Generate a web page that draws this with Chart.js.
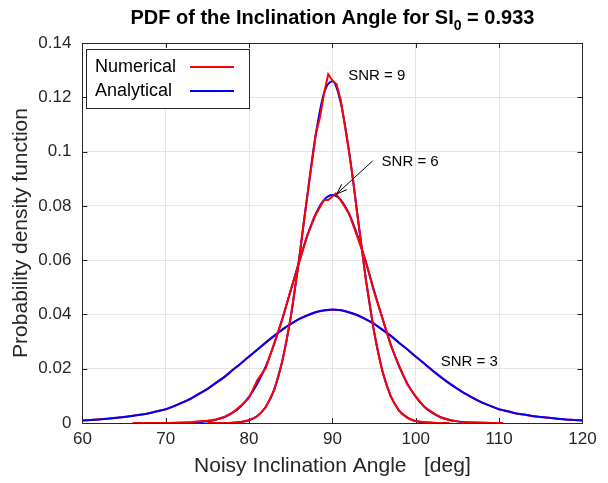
<!DOCTYPE html>
<html><head><meta charset="utf-8">
<script src="https://cdn.jsdelivr.net/npm/chart.js@4/dist/chart.umd.min.js"></script>
<style>html,body{margin:0;padding:0;background:#fff}</style>
</head><body>
<canvas id="c" width="608" height="483"></canvas>
<script>
// ---- data ----
const xTicks = [60, 70, 80, 90, 100, 110, 120];
const yTicks = [0, 0.02, 0.04, 0.06, 0.08, 0.1, 0.12, 0.14];

const ana3X = [60,61,62,63,64,65,66,67,68,69,70,71,72,73,74,75,76,77,78,79,80,81,82,83,84,85,86,87,88,89,90,91,92,93,94,95,96,97,98,99,100,101,102,103,104,105,106,107,108,109,110,111,112,113,114,115,116,117,118,119,120];
const ana3Y = [0.0009,0.0011,0.0013,0.0016,0.0019,0.0022,0.0026,0.0031,0.0036,0.0043,0.0051,0.0062,0.0075,0.0090,0.0107,0.0126,0.0147,0.0169,0.0194,0.0219,0.0245,0.0271,0.0296,0.0321,0.0344,0.0365,0.0383,0.0397,0.0408,0.0415,0.0418,0.0415,0.0408,0.0397,0.0383,0.0365,0.0344,0.0321,0.0296,0.0271,0.0245,0.0219,0.0194,0.0169,0.0147,0.0126,0.0107,0.0090,0.0075,0.0062,0.0051,0.0043,0.0036,0.0031,0.0026,0.0022,0.0019,0.0016,0.0013,0.0011,0.0009];
const num3X = ana3X;
const num3Y = [0.0009,0.0011,0.0014,0.0016,0.0018,0.0022,0.0027,0.0030,0.0036,0.0044,0.0050,0.0062,0.0076,0.0089,0.0108,0.0125,0.0148,0.0168,0.0195,0.0218,0.0246,0.0270,0.0297,0.0320,0.0345,0.0364,0.0384,0.0396,0.0409,0.0414,0.0417,0.0416,0.0407,0.0398,0.0382,0.0366,0.0343,0.0322,0.0295,0.0272,0.0244,0.0220,0.0193,0.0170,0.0146,0.0127,0.0106,0.0091,0.0074,0.0063,0.0050,0.0044,0.0035,0.0031,0.0025,0.0022,0.0019,0.0016,0.0013,0.0011,0.0009];

const ana6X = [70,71,72,73,74,75,76,77,78,79,80,81,82,83,84,85,86,87,88,89,90,91,92,93,94,95,96,97,98,99,100,101,102,103,104,105,106,107,108,109,110];
const ana6Y = [0,0.0000,0.0001,0.0002,0.0003,0.0006,0.0012,0.0021,0.0037,0.0061,0.0096,0.0145,0.0209,0.0290,0.0385,0.0488,0.0594,0.0691,0.0770,0.0822,0.0840,0.0822,0.0770,0.0691,0.0594,0.0488,0.0385,0.0290,0.0209,0.0145,0.0096,0.0061,0.0037,0.0021,0.0012,0.0006,0.0003,0.0002,0.0001,0.0000,0];
const num6X = [66,70,71,72,73,74,75,76,77,78,79,80,81,82,83,84,85,86,87,88,89,89.5,90.4,91,92,93,94,95,96,97,98,99,100,101,102,103,104,105,106,107,108,109,110.5];
const num6Y = [0,0,0.0001,0.0002,0.0003,0.0006,0.0008,0.0013,0.0022,0.0038,0.0063,0.0093,0.0158,0.0202,0.0292,0.0382,0.0490,0.0590,0.0693,0.0768,0.0822,0.0822,0.0846,0.0820,0.0772,0.0686,0.0597,0.0483,0.0388,0.0286,0.0212,0.0141,0.0098,0.0060,0.0039,0.0020,0.0011,0.0006,0.0003,0.0002,0.0001,0,0];

const ana9X = [76,77,78,79,80,81,82,83,84,85,86,87,88,89,90,91,92,93,94,95,96,97,98,99,100,101,102,103,104];
const ana9Y = [0,0,0.0001,0.0004,0.0010,0.0026,0.0059,0.0122,0.0230,0.0391,0.0603,0.0841,0.1063,0.1216,0.1259,0.1180,0.1001,0.0769,0.0535,0.0337,0.0192,0.0099,0.0046,0.0020,0.0007,0.0003,0.0001,0,0];
const num9X = [75,78,79,80,80.5,81,81.5,82,82.5,83,83.5,84,84.5,85,85.5,86,86.5,87,87.5,88,88.5,89,89.5,90,90.5,91,91.5,92,92.5,93,93.5,94,94.5,95,95.5,96,96.5,97,97.5,98,98.5,99,99.5,100,101,102,103,104];
const num9Y = [0,0.0001,0.0004,0.0010,0.0017,0.0025,0.0040,0.0058,0.0088,0.0120,0.0172,0.0228,0.0305,0.0388,0.0495,0.0600,0.0725,0.0838,0.0950,0.1062,0.1125,0.1215,0.1285,0.1262,0.1248,0.1190,0.1095,0.0998,0.0892,0.0765,0.0652,0.0530,0.0435,0.0335,0.0260,0.0190,0.0142,0.0098,0.0070,0.0045,0.0031,0.0019,0.0012,0.0007,0.0003,0.0001,0,0];

const legendLabels = ['Numerical', 'Analytical'];
const notes = [
  {text: 'SNR = 9', x: 91.9, y: 0.128},
  {text: 'SNR = 6', x: 95.9, y: 0.0963},
  {text: 'SNR = 3', x: 103.0, y: 0.0224}
];
const arrow = {x0: 94.84, y0: 0.0966, x1: 90.52, y1: 0.0844};

const pts = (xs, ys) => xs.map((x, i) => ({x: x, y: ys[i]}));
const RED = '#ff0000', BLUE = '#0000ff';
const FONT = "'Liberation Sans', Arial, sans-serif";
const ds = (data, color, smooth) => ({data: data, borderColor: color, backgroundColor: color, borderWidth: 2, pointRadius: 0, fill: false, tension: 0, cubicInterpolationMode: smooth ? 'monotone' : 'default'});

const decor = {
  id: 'decor',
  beforeDatasetsDraw(chart) {
    const {ctx, chartArea: a, scales: {x, y}} = chart;
    ctx.save();
    ctx.strokeStyle = '#262626';
    ctx.lineWidth = 1;
    ctx.strokeRect(Math.round(a.left) + 0.5, Math.round(a.top) + 0.5, Math.round(a.right - a.left), Math.round(a.bottom - a.top));
    ctx.beginPath();
    xTicks.forEach(v => {
      const px = Math.round(x.getPixelForValue(v)) + 0.5;
      ctx.moveTo(px, a.bottom); ctx.lineTo(px, a.bottom - 5);
      ctx.moveTo(px, a.top); ctx.lineTo(px, a.top + 5);
    });
    yTicks.forEach(v => {
      const py = Math.round(y.getPixelForValue(v)) + 0.5;
      ctx.moveTo(a.left, py); ctx.lineTo(a.left + 5, py);
      ctx.moveTo(a.right, py); ctx.lineTo(a.right - 5, py);
    });
    ctx.stroke();
    ctx.restore();
  },
  afterDraw(chart) {
    const {ctx, chartArea: a, scales: {x, y}} = chart;
    ctx.save();
    // title with subscript
    const parts = [['PDF of the Inclination Angle for SI', 'bold 20px ' + FONT, 0], ['0', 'bold 14px ' + FONT, 6], [' = 0.933', 'bold 20px ' + FONT, 0]];
    let w = 0;
    parts.forEach(p => { ctx.font = p[1]; w += ctx.measureText(p[0]).width; });
    let tx = (a.left + a.right) / 2 - w / 2;
    ctx.fillStyle = '#000';
    ctx.textBaseline = 'alphabetic';
    parts.forEach(p => { ctx.font = p[1]; ctx.fillText(p[0], tx, 24 + p[2]); tx += ctx.measureText(p[0]).width; });
    // legend
    ctx.fillStyle = '#fff';
    ctx.fillRect(86, 49, 163, 59);
    ctx.strokeStyle = '#262626';
    ctx.lineWidth = 1;
    ctx.strokeRect(86.5, 49.5, 163, 59);
    ctx.font = '18px ' + FONT;
    ctx.textBaseline = 'middle';
    ctx.fillStyle = '#000';
    [RED, BLUE].forEach((c, i) => {
      const yy = 67 + i * 24;
      ctx.fillText(legendLabels[i], 95, yy);
      ctx.strokeStyle = c; ctx.lineWidth = 2;
      ctx.beginPath(); ctx.moveTo(190, yy); ctx.lineTo(234, yy); ctx.stroke();
    });
    // annotations
    ctx.font = '15px ' + FONT;
    ctx.fillStyle = '#000';
    notes.forEach(n => ctx.fillText(n.text, x.getPixelForValue(n.x), y.getPixelForValue(n.y)));
    const ax0 = x.getPixelForValue(arrow.x0), ay0 = y.getPixelForValue(arrow.y0);
    const ax1 = x.getPixelForValue(arrow.x1), ay1 = y.getPixelForValue(arrow.y1);
    ctx.strokeStyle = '#000'; ctx.lineWidth = 1;
    ctx.beginPath(); ctx.moveTo(ax0, ay0); ctx.lineTo(ax1, ay1); ctx.stroke();
    const ang = Math.atan2(ay1 - ay0, ax1 - ax0);
    ctx.beginPath();
    ctx.moveTo(ax1 - 11 * Math.cos(ang - 0.35), ay1 - 11 * Math.sin(ang - 0.35));
    ctx.lineTo(ax1, ay1);
    ctx.lineTo(ax1 - 11 * Math.cos(ang + 0.35), ay1 - 11 * Math.sin(ang + 0.35));
    ctx.stroke();
    ctx.restore();
  }
};

new Chart(document.getElementById('c'), {
  type: 'line',
  data: {
    datasets: [
      ds(pts(num9X, num9Y), RED, false),
      ds(pts(num6X, num6Y), RED, false),
      ds(pts(ana3X, ana3Y), BLUE, true),
      ds(pts(ana9X, ana9Y), BLUE, true),
      ds(pts(ana6X, ana6Y), BLUE, true),
      ds(pts(num3X, num3Y), RED, false)
    ]
  },
  options: {
    responsive: false,
    animation: false,
    devicePixelRatio: 1,
    layout: {padding: {left: 0, top: 43, right: 25.6, bottom: 0}},
    plugins: {legend: {display: false}, tooltip: {enabled: false}},
    scales: {
      x: {
        type: 'linear', min: 60, max: 120,
        afterBuildTicks: s => { s.ticks = xTicks.map(v => ({value: v})); },
        afterFit: s => { s.height = 60; },
        ticks: {color: '#262626', font: {family: FONT, size: 17}, padding: 6, maxRotation: 0, callback: v => String(v)},
        grid: {color: '#e5e5e5', drawTicks: false},
        border: {color: '#262626'},
        title: {display: true, text: 'Noisy Inclination Angle   [deg]', color: '#262626', font: {family: FONT, size: 21}, padding: {top: 0, bottom: 4}}
      },
      y: {
        min: 0, max: 0.14,
        afterBuildTicks: s => { s.ticks = yTicks.map(v => ({value: v})); },
        afterFit: s => { s.width = 82.4; },
        ticks: {color: '#262626', font: {family: FONT, size: 17}, padding: 11, callback: v => String(parseFloat(v.toFixed(2)))},
        grid: {color: '#e5e5e5', drawTicks: false},
        border: {color: '#262626'},
        title: {display: true, text: 'Probability density function', color: '#262626', font: {family: FONT, size: 21}, padding: {top: 9, bottom: 0}}
      }
    }
  },
  plugins: [decor]
});
</script>
</body></html>
